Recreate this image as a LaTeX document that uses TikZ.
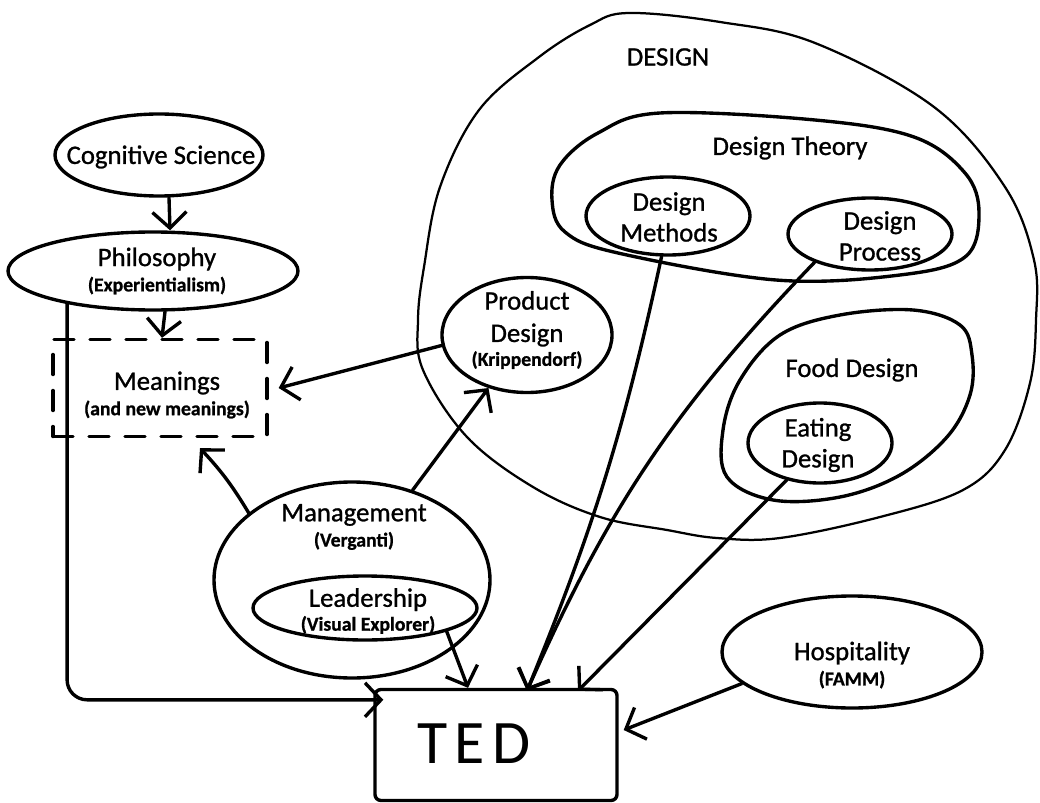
\documentclass[tikz,border=0pt]{standalone}
\usepackage{fontspec}
\setmainfont{Carlito}[FakeBold=1]
\newfontfamily\tedfont[LetterSpace=12]{Carlito}
\usetikzlibrary{arrows.meta,shapes.geometric}
\newcommand{\subtxt}[1]{{\fontsize{14}{16}\selectfont\bfseries #1}}

\begin{document}
\begin{tikzpicture}[x=0.25mm, y=-0.25mm,
  line width=2.4pt, line cap=round, line join=round,
  lbl/.style={font=\fontsize{19}{22}\selectfont, align=center, inner sep=0pt},
  blob/.style 2 args={draw, ellipse, inner sep=0pt, minimum width=#1, minimum height=#2},
  arr/.style={-{Straight Barb[length=4mm,width=8.5mm]}}]
  \useasboundingbox (0,0) rectangle (1040,803);

  % DESIGN area and the groups inside it
  \draw[line width=1.6pt] plot[smooth cycle, tension=0.6] coordinates {
    (629,13) (720,22) (815,43) (934,107) (1005,187) (1034,260) (1036,320)
    (1030,383) (1005,450) (963,490) (880,517) (780,538) (717,538) (667,530)
    (600,517) (533,487) (467,437) (423,370) (418,320) (424,267) (440,187)
    (479,110) (539,57) (590,25)};
  \node[lbl] (designlbl) at (668,57) {DESIGN};

  \draw plot[smooth cycle, tension=0.6] coordinates {
    (552,200) (560,165) (598,133) (660,113) (815,120) (914,137) (965,173)
    (979,213) (965,257) (900,275) (776,280) (618,253) (565,232)};
  \node[lbl] (theorylbl) at (790,148) {Design Theory};

  \draw plot[smooth cycle, tension=0.6] coordinates {
    (723,430) (740,380) (780,335) (840,315) (913,310) (960,325) (972,355)
    (970,395) (947,437) (900,475) (840,497) (773,500) (727,477)};
  \node[lbl] (foodlbl) at (852,370) {Food Design};

  % Shapes
  \node[blob={52mm}{20.5mm}] (cog) at (159,155) {};
  \node[blob={72.5mm}{19.5mm}] (phil) at (153,271) {};
  \node[draw, dash pattern=on 5mm off 4mm, minimum width=53.5mm, minimum height=24.25mm] (mean) at (160,388) {};
  \node[blob={42.5mm}{28.75mm}] (prod) at (527,335) {};
  \node[blob={69mm}{49mm}] (mgmt) at (352,580) {};
  \node[blob={56mm}{16mm}] (lead) at (365,608) {};
  \node[blob={41mm}{19.5mm}] (dmeth) at (668,216) {};
  \node[blob={41mm}{18mm}] (dproc) at (870,234) {};
  \node[blob={36mm}{20mm}] (eat) at (820,443) {};
  \node[blob={65mm}{28mm}] (hosp) at (852,652) {};
  \node[draw, rounded corners=1.5mm, minimum width=60.5mm, minimum height=27.75mm] (ted) at (496,745) {};

  % Texts
  \node[lbl] (cogtxt) at (161,157) {Cognitive Science};
  \node[lbl] (philtxt) at (157,271) {Philosophy\\[-4pt]\subtxt{(Experientialism)}};
  \node[lbl] (meantxt) at (167,395) {Meanings\\[-4pt]\subtxt{(and new meanings)}};
  \node[lbl] (prodtxt) at (527,330) {Product\\[1pt]Design\\[-5pt]\subtxt{(Krippendorf)}};
  \node[lbl] (mgmttxt) at (354,527) {Management\\[-4pt]\subtxt{(Verganti)}};
  \node[lbl] (leadtxt) at (368,611) {Leadership\\[-5pt]\subtxt{(Visual Explorer)}};
  \node[lbl] (dmethtxt) at (669,217) {Design\\Methods};
  \node[lbl] (dproctxt) at (880,236) {Design\\Process};
  \node[lbl] (eattxt) at (818,445) {Eating\\Design};
  \node[lbl] (hosptxt) at (852,665) {Hospitality\\[-4pt]\subtxt{(FAMM)}};
  \node[inner sep=0pt, font=\tedfont\fontsize{44}{44}\selectfont] (tedtxt) at (474,744) {TED};

  % Connectors
  \draw[arr] ([xshift=2.5mm]cog.south) -- ([xshift=4.25mm]phil.north);
  \draw[arr] ([xshift=3mm]phil.south) -- ([xshift=0.5mm]mean.north);
  \draw[arr, rounded corners=5mm] (phil.201) |- ([xshift=2.5mm,yshift=-3mm]ted.north west);
  \draw[arr] (prod.187) -- ([xshift=2.5mm]mean.east);
  \draw[arr] (mgmt.147) to[bend right=6] ([xshift=10mm,yshift=-2.5mm]mean.south);
  \draw[arr] (mgmt.56) -- (prod.234);
  \draw[arr] (lead.-16) -- ([xshift=-7mm]ted.north);
  \draw[arr] (dmeth.-99) to[bend left=5] ([xshift=7.75mm,yshift=-0.75mm]ted.north);
  \draw[arr] (dproc.207) to[bend right=10] ([xshift=7.75mm,yshift=-0.75mm]ted.north);
  \draw[arr] (eat.228) -- ([xshift=20.5mm,yshift=-0.75mm]ted.north);
  \draw[arr] (hosp.196) -- ([xshift=1.25mm,yshift=3.75mm]ted.east);
\end{tikzpicture}
\end{document}
